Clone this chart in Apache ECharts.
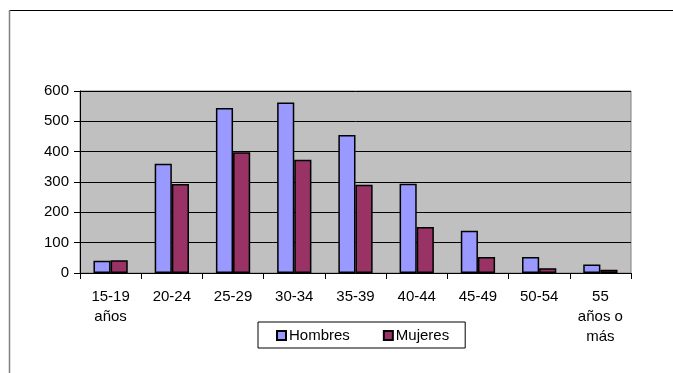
<!DOCTYPE html>
<html>
<head>
<meta charset="utf-8">
<script src="https://cdn.jsdelivr.net/npm/echarts@6/dist/echarts.min.js"></script>
<style>
  html, body { margin: 0; padding: 0; background: #fff; }
  #chart { width: 673px; height: 373px; }
</style>
</head>
<body>
<div id="chart"></div>
<script>
// Age groups (x axis)
const categories = ['15-19\naños', '20-24', '25-29', '30-34', '35-39', '40-44', '45-49', '50-54', '55\naños o\nmás'];
// Counts per age group
const hombres = [40, 360, 544, 562, 455, 294, 139, 53, 28];
const mujeres = [42, 293, 398, 373, 291, 152, 53, 16, 11];
// Value axis
const yMin = 0, yMax = 600, yStep = 100;

const FONT = '"Liberation Sans", Arial, sans-serif';

const chart = echarts.init(document.getElementById('chart'), null, { renderer: 'canvas' });

chart.setOption({
  animation: false,
  backgroundColor: '#ffffff',
  textStyle: { fontFamily: FONT, color: '#000' },
  grid: {
    left: 80, right: 42, top: 91, bottom: 100,
    show: true, backgroundColor: '#C0C0C0', borderColor: '#808080', borderWidth: 1
  },
  legend: {
    left: 258, top: 322,
    padding: [6, 16, 5, 18],
    borderColor: '#000', borderWidth: 1,
    itemWidth: 9, itemHeight: 9, itemGap: 33,
    icon: 'rect',
    textStyle: { fontFamily: FONT, fontSize: 15, color: '#000', padding: [4, 0, 0, -2] },
    data: ['Hombres', 'Mujeres']
  },
  xAxis: {
    type: 'category',
    data: categories,
    axisLine: { lineStyle: { color: '#000', width: 1 } },
    axisTick: { show: true, alignWithLabel: false, length: 6, inside: false, lineStyle: { color: '#000' } },
    axisLabel: { fontFamily: FONT, fontSize: 15, color: '#000', lineHeight: 20, margin: 14, interval: 0 },
    splitLine: { show: false }
  },
  yAxis: {
    type: 'value',
    min: yMin, max: yMax, interval: yStep,
    axisLine: { show: true, lineStyle: { color: '#000', width: 1 } },
    axisTick: { show: true, length: 6, lineStyle: { color: '#000' } },
    axisLabel: { fontFamily: FONT, fontSize: 15, color: '#000', margin: 11 },
    splitLine: { show: true, lineStyle: { color: '#000', width: 1 } }
  },
  series: [
    {
      name: 'Hombres', type: 'bar', data: hombres,
      barGap: '0%', barCategoryGap: '44%',
      itemStyle: { color: '#9999FF', borderColor: '#000', borderWidth: 1.5 }
    },
    {
      name: 'Mujeres', type: 'bar', data: mujeres,
      barGap: '0%', barCategoryGap: '44%',
      itemStyle: { color: '#993366', borderColor: '#000', borderWidth: 1.5 }
    }
  ],
  graphic: [
    // outer frame: top and left edges
    { type: 'line', shape: { x1: 9, y1: 10.5, x2: 673, y2: 10.5 }, style: { stroke: '#000', lineWidth: 1 }, silent: true },
    { type: 'line', shape: { x1: 9.5, y1: 10, x2: 9.5, y2: 373 }, style: { stroke: '#808080', lineWidth: 1.5 }, silent: true }
  ]
});
</script>
</body>
</html>
